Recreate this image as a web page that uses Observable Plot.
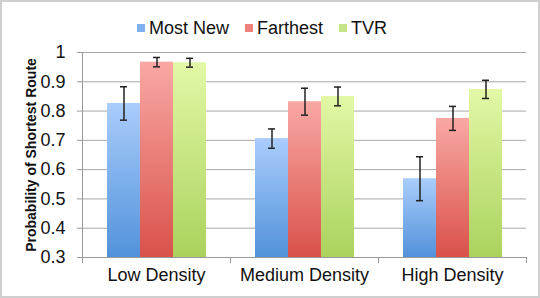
<!DOCTYPE html>
<html>
<head>
<meta charset="utf-8">
<script src="https://cdn.jsdelivr.net/npm/d3@7"></script>
<script src="https://cdn.jsdelivr.net/npm/@observablehq/plot@0.6"></script>
<style>
  html, body { margin: 0; padding: 0; background: #fff; }
  #wrap { width: 540px; height: 298px; box-sizing: border-box; border: 2px solid #cfcfcf; background: #fff; font-family: "Liberation Sans", Arial, sans-serif; overflow: hidden; }
  #legend { height: 36px; padding-top: 8px; box-sizing: content-box; display: flex; justify-content: center; align-items: center; font-size: 18px; color: #111; padding-right: 16px; }
  #legend .item { display: flex; align-items: center; margin: 0 8px; }
  #legend .sw { width: 8px; height: 8px; margin-right: 4px; }
  #chart svg { overflow: visible; }
</style>
</head>
<body>
<svg width="0" height="0" style="position:absolute">
  <defs>
    <linearGradient id="gBlue" x1="0" y1="0" x2="0" y2="1">
      <stop offset="0" stop-color="#aacdfb"/>
      <stop offset="1" stop-color="#5292db"/>
    </linearGradient>
    <linearGradient id="gRed" x1="0" y1="0" x2="0" y2="1">
      <stop offset="0" stop-color="#f9a8a4"/>
      <stop offset="1" stop-color="#d9524a"/>
    </linearGradient>
    <linearGradient id="gGreen" x1="0" y1="0" x2="0" y2="1">
      <stop offset="0" stop-color="#e2f8a6"/>
      <stop offset="1" stop-color="#abd25d"/>
    </linearGradient>
  </defs>
</svg>
<div id="wrap">
  <div id="legend"></div>
  <div id="chart"></div>
</div>
<script>
const categories = ["Low Density", "Medium Density", "High Density"];
const series = ["Most New", "Farthest", "TVR"];
const mostNew = [0.826, 0.706, 0.569];
const farthest = [0.967, 0.832, 0.775];
const tvr = [0.965, 0.850, 0.874];
const errMostNew = [0.057, 0.033, 0.075];
const errFarthest = [0.016, 0.046, 0.041];
const errTvr = [0.015, 0.032, 0.031];
const yTicks = [0.3, 0.4, 0.5, 0.6, 0.7, 0.8, 0.9, 1];
const yLabel = "Probability of Shortest Route";
const fills = ["url(#gBlue)", "url(#gRed)", "url(#gGreen)"];
const swatch = ["#7fb0ee", "#ee817b", "#c6e489"];

const values = [mostNew, farthest, tvr];
const errs = [errMostNew, errFarthest, errTvr];
const data = [];
categories.forEach((c, i) => {
  series.forEach((s, j) => {
    data.push({category: c, series: s, v: values[j][i], e: errs[j][i]});
  });
});

const legend = document.getElementById("legend");
series.forEach((s, j) => {
  const it = document.createElement("div");
  it.className = "item";
  it.innerHTML = `<div class="sw" style="background:${swatch[j]}"></div><span>${s}</span>`;
  legend.appendChild(it);
});

const chart = Plot.plot({
  width: 536,
  height: 250,
  marginTop: 6,
  marginBottom: 39,
  marginLeft: 79,
  marginRight: 11,
  style: {fontFamily: "Liberation Sans, Arial, sans-serif", background: "white", color: "#111", overflow: "visible"},
  fx: {domain: categories, padding: 0, label: null},
  x: {domain: series, paddingInner: 0, paddingOuter: 0.74, axis: null},
  y: {domain: [0.3, 1], label: null},
  color: {type: "ordinal", domain: series, range: fills},
  marks: [
    Plot.gridY(yTicks, {stroke: "#a8a8a8", strokeOpacity: 1, strokeWidth: 1}),
    Plot.barY(data, {fx: "category", x: "series", y1: () => 0.3, y2: "v", fill: "series"}),
    Plot.ruleX(data, {fx: "category", x: "series", y1: d => d.v - d.e, y2: d => d.v + d.e, stroke: "#222", strokeWidth: 1.5}),
    Plot.tickY(data, {fx: "category", x: "series", y: d => d.v + d.e, stroke: "#222", strokeWidth: 1.5, insetLeft: 13, insetRight: 13}),
    Plot.tickY(data, {fx: "category", x: "series", y: d => d.v - d.e, stroke: "#222", strokeWidth: 1.5, insetLeft: 13, insetRight: 13}),
    Plot.ruleY([0.3], {stroke: "#999", strokeWidth: 1.2}),
    Plot.frame({anchor: "left", stroke: "#999", insetTop: 205, insetBottom: -5}),
    Plot.frame({anchor: "right", stroke: "#999", insetTop: 205, insetBottom: -5}),
    Plot.frame({anchor: "left", stroke: "#999", facet: "super"}),
    Plot.axisY(yTicks, {tickSize: 5, tickPadding: 12, fontSize: 18, stroke: "#999", fill: "#111", label: null, tickFormat: d => String(d)}),
    Plot.axisY([], {label: yLabel, labelAnchor: "center", labelArrow: "none", labelOffset: 56, fontSize: 14, fontWeight: "bold", fill: "#111", tickSize: 0}),
    Plot.axisFx({anchor: "bottom", tickSize: 0, tickPadding: 11, fontSize: 18, label: null, fill: "#111"})
  ]
});
document.getElementById("chart").appendChild(chart);
</script>
</body>
</html>
